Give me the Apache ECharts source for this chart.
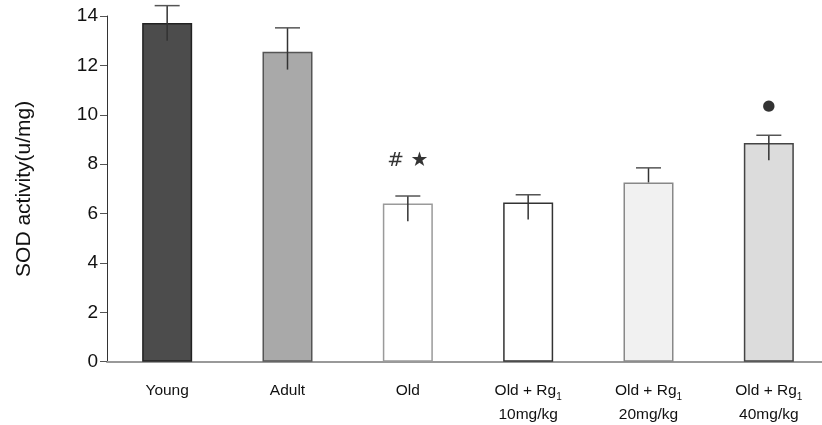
<!DOCTYPE html>
<html><head><meta charset="utf-8">
<script src="https://cdn.jsdelivr.net/npm/echarts@6/dist/echarts.min.js"></script>
<style>html,body{margin:0;padding:0;background:#fff}#c{width:822px;height:425px}</style>
</head><body><div id="c"></div>
<script>
var categories = ['Young', 'Adult', 'Old', 'Old + Rg1\n10mg/kg', 'Old + Rg1\n20mg/kg', 'Old + Rg1\n40mg/kg'];
var values = [13.72, 12.55, 6.41, 6.45, 7.26, 8.86];
var errHigh = [14.42, 13.52, 6.71, 6.76, 7.85, 9.17];
var errLow = [13.0, 11.83, 5.69, 5.76, 7.26, 8.16];
var annotations = [[2, 8.15, '# ★'], [5, 10.35, '●']];
var yTicks = [0, 2, 4, 6, 8, 10, 12, 14];

var fills = ['#4c4c4c', '#a9a9a9', '#ffffff', '#ffffff', '#f1f1f1', '#dcdcdc'];
var borders = ['#222', '#555', '#9a9a9a', '#333', '#888', '#444'];

var chart = echarts.init(document.getElementById('c'));
var font = 'Liberation Sans, Arial, Helvetica, sans-serif';

function catLabel(v) {
  if (v.indexOf('Rg1') >= 0) {
    var parts = v.split('\n');
    return '{a|Old + Rg}{s|1}\n{a|' + parts[1] + '}';
  }
  return '{a|' + v + '}';
}

chart.setOption({
  animation: false,
  grid: {left: 107, width: 722, top: 16, bottom: 63.3, outerBoundsMode: 'none', containLabel: false},
  xAxis: {
    type: 'category', data: categories,
    axisLine: {lineStyle: {color: '#999', width: 2}},
    axisTick: {show: false},
    axisLabel: {
      margin: 17, interval: 0, formatter: catLabel,
      rich: {
        a: {fontSize: 15.5, fontFamily: font, color: '#111', lineHeight: 24},
        s: {fontSize: 10, fontFamily: font, color: '#111', verticalAlign: 'bottom', padding: [8, 0, 0, 0], lineHeight: 24}
      }
    }
  },
  yAxis: {
    type: 'value', min: 0, max: 14, interval: 2,
    name: 'SOD activity(u/mg)', nameLocation: 'middle', nameGap: 72,
    nameTextStyle: {fontSize: 21, fontFamily: font, color: '#111'},
    axisLine: {show: true, lineStyle: {color: '#333', width: 1}},
    axisTick: {show: true, length: 7, lineStyle: {color: '#555'}},
    axisLabel: {fontSize: 19, fontFamily: font, color: '#111', margin: 9},
    splitLine: {show: false}
  },
  series: [
    {
      type: 'bar', barWidth: 50,
      data: values.map(function (v, i) {
        return {value: v, itemStyle: {color: fills[i], borderColor: borders[i], borderWidth: 1.5}};
      })
    },
    {
      type: 'custom',
      data: values.map(function (v, i) { return [i, errLow[i], errHigh[i]]; }),
      renderItem: function (params, api) {
        var lo = api.coord([api.value(0), api.value(1)]);
        var hi = api.coord([api.value(0), api.value(2)]);
        var x = hi[0];
        return {
          type: 'group', children: [
            {type: 'line', shape: {x1: x, y1: lo[1], x2: x, y2: hi[1]}, style: {stroke: '#333', lineWidth: 1.5}},
            {type: 'line', shape: {x1: x - 12.5, y1: hi[1], x2: x + 12.5, y2: hi[1]}, style: {stroke: '#555', lineWidth: 1.5}}
          ]
        };
      },
      z: 5
    },
    {
      type: 'scatter', symbolSize: 0,
      data: annotations.map(function (a, i) {
        return {value: [a[0], a[1]], label: {formatter: a[2], fontSize: i === 0 ? 20 : 15}};
      }),
      label: {show: true, position: 'inside', fontFamily: 'DejaVu Sans, sans-serif', color: '#000'}
    }
  ]
});
</script></body></html>
